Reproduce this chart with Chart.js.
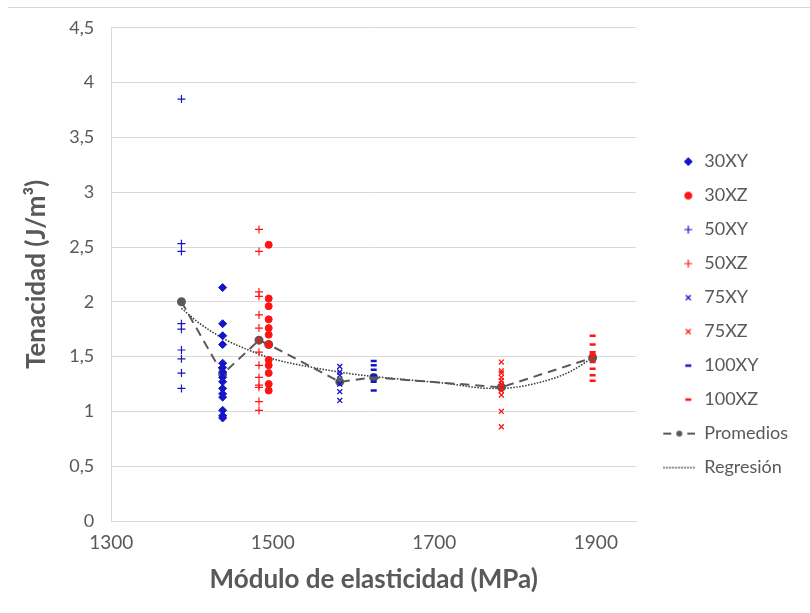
<!DOCTYPE html>
<html>
<head>
<meta charset="utf-8">
<script src="https://cdn.jsdelivr.net/npm/chart.js@4.4.0/dist/chart.umd.min.js"></script>
<style>
  html, body { margin: 0; padding: 0; background: #fff; }
  .wrap { position: relative; width: 810px; height: 613px; }
  .frame { position: absolute; top: 7px; left: 8px; right: 0; height: 1px; background: #d9d9d9; }
</style>
</head>
<body>
<div class="wrap">
  <div class="frame"></div>
  <canvas id="tenacidad" width="810" height="613"></canvas>
</div>
<script>
// modulo de elasticidad (MPa) de cada grupo
const x30XY = 1438, x30XZ = 1495, x50XY = 1387, x50XZ = 1483;
const x75XY = 1583, x75XZ = 1783, x100XY = 1625, x100XZ = 1896;

// tenacidad (J/m3) de cada probeta
const v30XY = [2.13, 1.80, 1.69, 1.61, 1.44, 1.40, 1.36, 1.31, 1.27, 1.21, 1.16, 1.13, 1.01, 0.96, 0.94];
const v30XZ = [2.52, 2.03, 1.96, 1.84, 1.76, 1.70, 1.61, 1.47, 1.42, 1.35, 1.25, 1.19];
const v50XY = [3.85, 2.53, 2.46, 1.80, 1.75, 1.56, 1.48, 1.35, 1.21];
const v50XZ = [2.66, 2.46, 2.09, 2.05, 1.88, 1.76, 1.65, 1.54, 1.42, 1.31, 1.24, 1.22, 1.09, 1.01];
const v75XY = [1.41, 1.36, 1.33, 1.25, 1.18, 1.10];
const v75XZ = [1.45, 1.37, 1.35, 1.31, 1.28, 1.25, 1.22, 1.19, 1.15, 1.00, 0.86];
const v100XY = [1.46, 1.42, 1.38, 1.33, 1.27, 1.19];
const v100XZ = [1.69, 1.61, 1.54, 1.52, 1.50, 1.45, 1.39, 1.33, 1.28];

// promedios
const promX = [1387, 1438, 1483, 1495, 1583, 1625, 1783, 1896];
const promY = [2.00, 1.34, 1.65, 1.61, 1.27, 1.31, 1.22, 1.49];

// curva de regresion
const regX = [1387, 1410, 1440, 1470, 1500, 1550, 1600, 1650, 1710, 1770, 1800, 1847, 1870, 1896];
const regY = [1.94, 1.80, 1.66, 1.56, 1.48, 1.40, 1.34, 1.30, 1.26, 1.21, 1.22, 1.30, 1.37, 1.49];

const xTicks = [1300, 1500, 1700, 1900];

const BLUE = "rgb(20,20,200)";
const RED = "rgb(255,20,20)";
const GREY = "#595959";
const FONT = "Lato";
const ICON_W = 43;

const pts = (x, values) => values.map((y) => ({ x: x, y: y }));
const line = (xs, ys) => xs.map((x, i) => ({ x: x, y: ys[i] }));

function newIcon() {
  const c = document.createElement("canvas");
  c.width = ICON_W;
  c.height = 14;
  return c;
}

function markerIcon(style, color, radius, width) {
  const c = newIcon();
  const ctx = c.getContext("2d");
  ctx.fillStyle = color;
  ctx.strokeStyle = color;
  ctx.lineWidth = width;
  Chart.helpers.drawPoint(ctx, { pointStyle: style, radius: radius, borderWidth: width, rotation: 0 }, ICON_W - 7, 7);
  return c;
}

function promIcon() {
  const c = newIcon();
  const ctx = c.getContext("2d");
  const s = ICON_W - 32;
  ctx.strokeStyle = GREY;
  ctx.fillStyle = GREY;
  ctx.lineWidth = 2;
  ctx.beginPath();
  ctx.moveTo(s, 7); ctx.lineTo(s + 8, 7);
  ctx.moveTo(s + 24, 7); ctx.lineTo(s + 32, 7);
  ctx.stroke();
  ctx.beginPath();
  ctx.arc(s + 16, 7, 3, 0, Math.PI * 2);
  ctx.fill();
  return c;
}

function regIcon() {
  const c = newIcon();
  const ctx = c.getContext("2d");
  ctx.strokeStyle = "#333";
  ctx.lineWidth = 1.3;
  ctx.setLineDash([1.5, 1.5]);
  ctx.beginPath();
  ctx.moveTo(ICON_W - 32, 7); ctx.lineTo(ICON_W, 7);
  ctx.stroke();
  return c;
}

function scatterSet(label, x, values, style, color, radius, width) {
  return {
    label: label,
    data: pts(x, values),
    pointStyle: style,
    pointRadius: radius,
    pointBorderWidth: width,
    backgroundColor: color,
    borderColor: color,
    legendIcon: markerIcon(style, color, radius, width),
  };
}

const datasets = [
  scatterSet("30XY", x30XY, v30XY, "rectRot", BLUE, 4, 1),
  scatterSet("30XZ", x30XZ, v30XZ, "circle", RED, 3.5, 1),
  scatterSet("50XY", x50XY, v50XY, "cross", BLUE, 4, 1.2),
  scatterSet("50XZ", x50XZ, v50XZ, "cross", RED, 4, 1.2),
  scatterSet("75XY", x75XY, v75XY, "crossRot", BLUE, 3.5, 1.3),
  scatterSet("75XZ", x75XZ, v75XZ, "crossRot", RED, 3.5, 1.3),
  scatterSet("100XY", x100XY, v100XY, "line", BLUE, 3, 2.5),
  scatterSet("100XZ", x100XZ, v100XZ, "line", RED, 3, 2.5),
  {
    label: "Promedios",
    data: line(promX, promY),
    showLine: true,
    borderColor: GREY,
    backgroundColor: GREY,
    borderWidth: 2,
    borderDash: [9, 6],
    pointStyle: "circle",
    pointRadius: 3.5,
    legendIcon: promIcon(),
  },
  {
    label: "Regresión",
    data: line(regX, regY),
    showLine: true,
    borderColor: "#333",
    borderWidth: 1.5,
    borderDash: [1.5, 1.5],
    pointRadius: 0,
    cubicInterpolationMode: "monotone",
    legendIcon: regIcon(),
  },
];

new Chart(document.getElementById("tenacidad"), {
  type: "scatter",
  data: { datasets: datasets },
  options: {
    responsive: false,
    animation: false,
    layout: { padding: { top: 20, left: 16, right: 12, bottom: 18 } },
    scales: {
      x: {
        type: "linear",
        min: 1300,
        max: 1950,
        afterBuildTicks: (scale) => {
          scale.ticks = xTicks.map((v) => ({ value: v }));
        },
        grid: { display: false, drawTicks: false },
        border: { display: true, color: "#d9d9d9", width: 1 },
        ticks: {
          color: GREY,
          padding: 10,
          font: { family: FONT, size: 19 },
          callback: (v) => String(v),
        },
        title: {
          display: true,
          text: "Módulo de elasticidad (MPa)",
          color: GREY,
          padding: { top: 0, bottom: 0 },
          font: { family: FONT, size: 26, weight: "bold" },
        },
      },
      y: {
        min: 0,
        max: 4.5,
        ticks: {
          stepSize: 0.5,
          color: GREY,
          padding: 17,
          font: { family: FONT, size: 18 },
          callback: (v) => String(v).replace(".", ","),
        },
        grid: { color: "#d9d9d9", drawTicks: false },
        border: { display: true, color: "#d9d9d9", width: 1 },
        title: {
          display: true,
          text: "Tenacidad (J/m³)",
          color: GREY,
          padding: { top: 5, bottom: 0 },
          font: { family: FONT, size: 26, weight: "bold" },
        },
      },
    },
    plugins: {
      tooltip: { enabled: false },
      legend: {
        position: "right",
        title: { display: true, text: "", padding: { top: 13, bottom: 0 }, font: { size: 1 } },
        labels: {
          usePointStyle: true,
          pointStyleWidth: ICON_W,
          padding: 16,
          color: GREY,
          font: { family: FONT, size: 18 },
          generateLabels: (chart) =>
            chart.data.datasets.map((ds, i) => ({
              text: ds.label,
              pointStyle: ds.legendIcon,
              fontColor: GREY,
              lineWidth: 0,
              hidden: false,
              datasetIndex: i,
            })),
        },
      },
    },
  },
});
</script>
</body>
</html>
